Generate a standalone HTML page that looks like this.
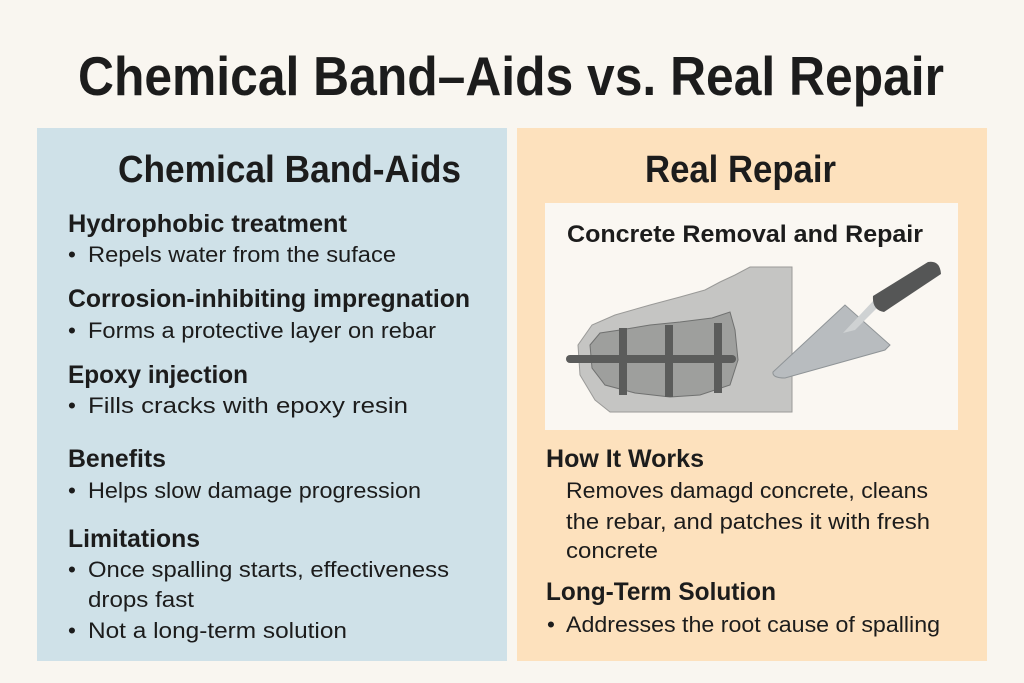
<!DOCTYPE html>
<html><head><meta charset="utf-8"><style>
html,body{margin:0;padding:0;background:#f9f6f0;}
svg{display:block;}
text{font-family:"Liberation Sans",sans-serif;fill:#1c1c1c;}
.b{font-weight:bold;}
</style></head><body>
<svg width="1024" height="683" viewBox="0 0 1024 683" xmlns="http://www.w3.org/2000/svg">
<rect width="1024" height="683" fill="#f9f6f0"/>
<rect x="37" y="128" width="470" height="533" fill="#cfe1e8"/>
<rect x="517" y="128" width="470" height="533" fill="#fde1bd"/>
<rect x="545" y="203" width="413" height="227" fill="#faf7f2"/>

<text class="b" x="78" y="95" font-size="55" textLength="866" lengthAdjust="spacingAndGlyphs">Chemical Band–Aids vs. Real Repair</text>
<text class="b" x="118" y="182" font-size="38" textLength="343" lengthAdjust="spacingAndGlyphs">Chemical Band-Aids</text>
<text class="b" x="645" y="182" font-size="38" textLength="191" lengthAdjust="spacingAndGlyphs">Real Repair</text>

<g font-size="25">
<text class="b" x="68" y="232" textLength="279" lengthAdjust="spacingAndGlyphs">Hydrophobic treatment</text>
<text class="b" x="68" y="307" textLength="402" lengthAdjust="spacingAndGlyphs">Corrosion-inhibiting impregnation</text>
<text class="b" x="68" y="383" textLength="180" lengthAdjust="spacingAndGlyphs">Epoxy injection</text>
<text class="b" x="68" y="467" textLength="98" lengthAdjust="spacingAndGlyphs">Benefits</text>
<text class="b" x="68" y="547" textLength="132" lengthAdjust="spacingAndGlyphs">Limitations</text>
<text class="b" x="546" y="467" textLength="158" lengthAdjust="spacingAndGlyphs">How It Works</text>
<text class="b" x="546" y="600" textLength="230" lengthAdjust="spacingAndGlyphs">Long-Term Solution</text>
</g>
<text class="b" x="567" y="242" font-size="24" textLength="356" lengthAdjust="spacingAndGlyphs">Concrete Removal and Repair</text>

<g font-size="22.5">
<text x="68" y="262">•</text><text x="88" y="262" textLength="308" lengthAdjust="spacingAndGlyphs">Repels water from the suface</text>
<text x="68" y="338">•</text><text x="88" y="338" textLength="348" lengthAdjust="spacingAndGlyphs">Forms a protective layer on rebar</text>
<text x="68" y="413">•</text><text x="88" y="413" textLength="320" lengthAdjust="spacingAndGlyphs">Fills cracks with epoxy resin</text>
<text x="68" y="498">•</text><text x="88" y="498" textLength="333" lengthAdjust="spacingAndGlyphs">Helps slow damage progression</text>
<text x="68" y="577">•</text><text x="88" y="577" textLength="361" lengthAdjust="spacingAndGlyphs">Once spalling starts, effectiveness</text>
<text x="88" y="607" textLength="106" lengthAdjust="spacingAndGlyphs">drops fast</text>
<text x="68" y="638">•</text><text x="88" y="638" textLength="259" lengthAdjust="spacingAndGlyphs">Not a long-term solution</text>
<text x="566" y="498" textLength="362" lengthAdjust="spacingAndGlyphs">Removes damagd concrete, cleans</text>
<text x="566" y="529" textLength="364" lengthAdjust="spacingAndGlyphs">the rebar, and patches it with fresh</text>
<text x="566" y="558" textLength="92" lengthAdjust="spacingAndGlyphs">concrete</text>
<text x="547" y="632">•</text><text x="566" y="632" textLength="374" lengthAdjust="spacingAndGlyphs">Addresses the root cause of spalling</text>
</g>

<!-- illustration -->
<path d="M610,412 L595,400 L580,375 L578,345 L592,325 L615,315 L650,305 L680,297 L705,290 L720,282 L735,275 L750,267 L792,267 L792,412 Z" fill="#c5c5c3" stroke="#9a9a98" stroke-width="1"/>
<path d="M590,345 L600,333 L620,330 L650,325 L680,322 L712,318 L730,312 L735,330 L738,360 L730,385 L700,395 L670,397 L635,393 L605,385 L592,368 Z" fill="#9e9f9d" stroke="#707170" stroke-width="1"/>
<rect x="619" y="328" width="8" height="67" fill="#5b5c5b"/>
<rect x="665" y="325" width="8" height="72" fill="#5b5c5b"/>
<rect x="714" y="323" width="8" height="70" fill="#5b5c5b"/>
<rect x="566" y="355" width="170" height="8" rx="4" fill="#5b5c5b"/>
<path d="M773,372 L845,305 L890,345 L885,350 L785,378 Q772,378 773,372 Z" fill="#b8bcbf" stroke="#8f9497" stroke-width="1"/>
<path d="M843,333 L855,330 L880,305 L874,300 Z" fill="#cfd2d3"/>
<path d="M873,296 L928,262 Q940,260 941,274 L884,312 Q872,310 873,296 Z" fill="#555656"/>
</svg>
</body></html>
